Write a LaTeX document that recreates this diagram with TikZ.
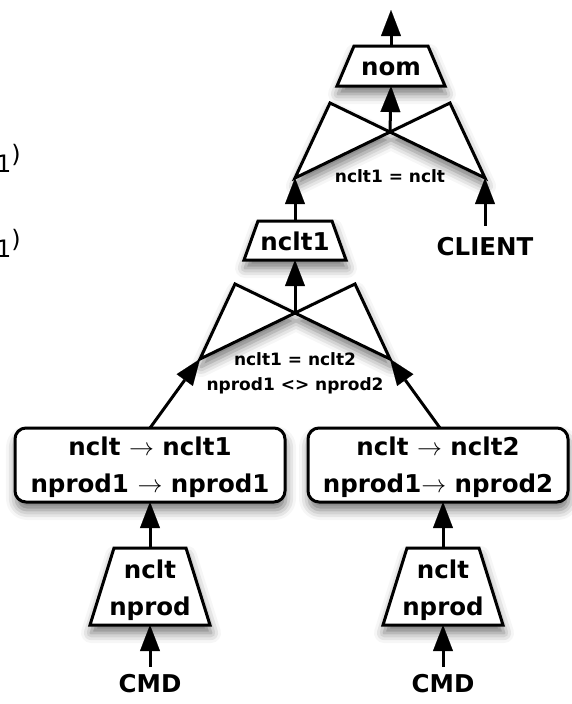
\documentclass[tikz,border=0pt]{standalone}
\usepackage{fontspec}
\setmainfont{DejaVu Sans}
\usetikzlibrary{arrows.meta,shadows.blur}
\tikzset{
  shp/.style={draw=black, line width=3pt, fill=white, line join=miter,
    blur shadow={shadow xshift=1pt, shadow yshift=-8pt, shadow blur radius=10pt, shadow opacity=55}},
  con/.style={draw=black, line width=3pt, -{Triangle[width=20pt,length=26pt,fill=black,line width=0.1pt]}},
  big/.style={font=\fontsize{24.5}{24.5}\selectfont\bfseries, inner sep=0pt},
  small/.style={font=\fontsize{17}{17}\selectfont\bfseries, inner sep=0pt},
  frag/.style={font=\fontsize{24}{24}\selectfont, inner sep=0pt, anchor=base west},
  boxstyle/.style={shp, rounded corners=11pt}
}
% trapezoid: name, cx, ytop, ybot, half top, half bottom
\newcommand\mytrap[6]{%
  \path[shp] ({#2-#5},#3) -- ({#2+#5},#3) -- ({#2+#6},#4) -- ({#2-#6},#4) -- cycle;
  \coordinate (#1-t) at (#2,#3);
  \coordinate (#1-b) at (#2,#4);}
% bowtie (join): name, cx, cy
\newcommand\mybowtie[3]{%
  \path[shp] ({#2-60},{#3-29}) -- (#2,#3) -- ({#2-95},{#3+46}) -- cycle
             ({#2+60},{#3-29}) -- (#2,#3) -- ({#2+95},{#3+46}) -- cycle;
  \coordinate (#1-c) at (#2,#3);
  \coordinate (#1-bl) at ({#2-95},{#3+46});
  \coordinate (#1-br) at ({#2+95},{#3+46});}
\begin{document}
\begin{tikzpicture}[x=1pt,y=-1pt]
\useasboundingbox (0,0) rectangle (572,704);

% fragments at the left edge
\node[frag] (f1) at (-4,172) {1\raisebox{10pt}{)}};
\node[frag] (f2) at (-4,257) {1\raisebox{10pt}{)}};

% top part
\mytrap{nom}{391}{46}{86}{37}{54}
\node[big, anchor=base] (nomt) at (391,75) {nom};
\coordinate (top) at (391,10);
\mybowtie{j1}{390}{132}
\node[small, anchor=base] (c1) at (390,182) {nclt1 = nclt};

\mytrap{n1}{295}{221}{260}{37}{51}
\node[big, anchor=base] (n1t) at (295,250) {nclt1};
\node[big, anchor=base] (client) at (485,255) {CLIENT};

\mybowtie{j2}{295}{313}
\node[small, anchor=base] (c2) at (295,365) {nclt1 = nclt2};
\node[small, anchor=base] (c3) at (295,390) {nprod1 <> nprod2};

% boxes
\path[boxstyle] (15,428) rectangle (285,502);
\coordinate (lbox-n) at (150,428);
\coordinate (lbox-s) at (150,502);
\node[big, anchor=base] (l1) at (150,455) {nclt $\rightarrow$ nclt1};
\node[big, anchor=base] (l2) at (150,492) {nprod1 $\rightarrow$ nprod1};

\path[boxstyle] (308,428) rectangle (568,502);
\coordinate (rbox-n) at (440,428);
\coordinate (rbox-s) at (443,502);
\node[big, anchor=base] (r1) at (438,455) {nclt $\rightarrow$ nclt2};
\node[big, anchor=base] (r2) at (438,492) {nprod1$\rightarrow$ nprod2};

% bottom trapezoids
\mytrap{lt}{150}{548}{625}{36}{60}
\node[big, anchor=base] (lt1) at (150,578) {nclt};
\node[big, anchor=base] (lt2) at (150,615) {nprod};
\mytrap{rt}{443}{548}{625}{36}{60}
\node[big, anchor=base] (rt1) at (443,578) {nclt};
\node[big, anchor=base] (rt2) at (443,615) {nprod};

\node[big, anchor=base] (cmdl) at (150,692) {CMD};
\node[big, anchor=base] (cmdr) at (443,692) {CMD};

% connectors
\draw[con] (nom-t) -- (top);
\draw[con] (j1-c) -- (nom-b);
\draw[con] (n1-t) -- (j1-bl);
\draw[con] ([yshift=11pt]client.north) -- (j1-br);
\draw[con] (j2-c) -- (n1-b);
\draw[con] (lbox-n) -- (j2-bl);
\draw[con] (rbox-n) -- (j2-br);
\draw[con] (lt-t) -- (lbox-s);
\draw[con] (rt-t) -- (rbox-s);
\draw[con] ([yshift=7pt]cmdl.north) -- (lt-b);
\draw[con] ([yshift=7pt]cmdr.north) -- (rt-b);
\end{tikzpicture}
\end{document}
